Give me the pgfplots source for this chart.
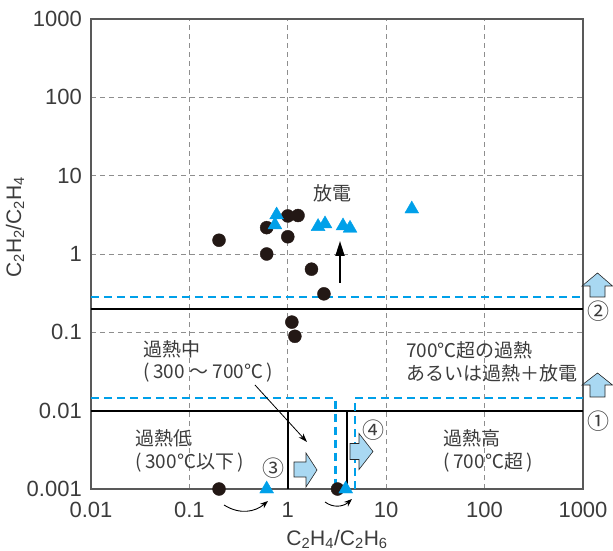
\documentclass[border=0pt]{standalone}
\usepackage{fontspec}
\setmainfont{Liberation Sans}
\newfontfamily\jp{Noto Sans CJK JP}
\usepackage{pgfplots}
\pgfplotsset{compat=1.18}
\usetikzlibrary{arrows.meta}

\definecolor{txt}{HTML}{3C3C3C}
\definecolor{cyanmark}{HTML}{00A0E9}
\definecolor{boxblue}{HTML}{A9D8F2}
\definecolor{gridgray}{HTML}{8E8E8E}
\definecolor{dotblack}{HTML}{231815}

\newcommand{\jpf}{\jp\fontsize{19}{22.7}\selectfont}

\begin{document}
\begin{tikzpicture}
\begin{axis}[
  scale only axis, width=492pt, height=470pt,
  xmode=log, ymode=log,
  xmin=0.01, xmax=1000, ymin=0.001, ymax=1000,
  xtick={0.01,0.1,1,10,100,1000},
  xticklabels={0.01,0.1,1,10,100,1000},
  ytick={0.001,0.01,0.1,1,10,100,1000},
  yticklabels={0.001,0.01,0.1,1,10,100,1000},
  xminorticks=false, yminorticks=false,
  major tick length=0pt,
  tick label style={font=\fontsize{22}{22}\selectfont, text=txt},
  xticklabel style={anchor=north, inner sep=0pt, yshift=-13pt},
  yticklabel style={anchor=east, inner sep=0pt, xshift=-9pt},
  grid=major,
  major grid style={gridgray, line width=0.7pt, dash pattern=on 5pt off 4pt},
  axis line style={draw=black!65, line width=1.4pt},
  xlabel={C\textsubscript{2}H\textsubscript{4}/C\textsubscript{2}H\textsubscript{6}},
  ylabel={C\textsubscript{2}H\textsubscript{2}/C\textsubscript{2}H\textsubscript{4}},
  label style={font=\fontsize{21}{21}\selectfont, text=txt},
  xlabel style={at={(axis description cs:0.5,-0.0872)}, anchor=north, inner sep=0pt},
  ylabel style={at={(axis description cs:-0.1545,0.557)}, anchor=center, inner sep=0pt},
  clip=false,
]
% diagnostic boundaries (solid) and alternative boundaries (dashed)
\addplot[black, line width=2.2pt] coordinates {(0.01,0.2) (1000,0.2)};
\addplot[black, line width=2.2pt] coordinates {(0.01,0.01) (1000,0.01)};
\addplot[black, line width=2.2pt] coordinates {(1,0.001) (1,0.01)};
\addplot[black, line width=2.2pt] coordinates {(4,0.001) (4,0.01)};
\addplot[cyanmark, line width=2.2pt, dash pattern=on 8pt off 5pt] coordinates {(0.01,0.28) (1000,0.28)};
\addplot[cyanmark, line width=2.2pt, dash pattern=on 8pt off 5pt] coordinates {(0.01,0.0145) (3.05,0.0145) (3.05,0.001)};
\addplot[cyanmark, line width=2.2pt, dash pattern=on 8pt off 5pt] coordinates {(4.85,0.001) (4.85,0.0145) (1000,0.0145)};

% measured ratios
\addplot[only marks, mark=*, mark size=6.5pt, color=dotblack] coordinates {
  (0.2,1.5) (0.61,2.17) (0.61,1.0) (1.0,3.06) (1.27,3.1) (1.0,1.66)
  (1.74,0.64) (2.33,0.31) (1.1,0.135) (1.18,0.089) (0.2,0.001) (3.2,0.001)
};
\addplot[only marks, mark=triangle*, mark size=8pt, color=cyanmark] coordinates {
  (0.77,3.15) (0.74,2.35) (2.03,2.24) (2.39,2.42) (3.64,2.28) (4.29,2.13)
  (18.2,3.75) (0.61,0.001) (3.88,0.001)
};
\end{axis}

\begin{scope}[shift={(current axis.south west)}, xshift=-91pt, yshift=489pt, x=1pt, y=-1pt]
  % region labels
  \node[font=\jpf, text=txt] at (332,193) {放電};
  \node[anchor=west, align=left, font=\jpf, text=txt, inner sep=0pt] at (143,361.5)
    {過熱中\\(\hspace{0.2em}300 ～ 700℃\hspace{0.2em})};
  \node[anchor=west, align=left, font=\jpf, text=txt, inner sep=0pt] at (406,362)
    {700℃超の過熱\\あるいは過熱＋放電};
  \node[anchor=west, align=left, font=\jpf, text=txt, inner sep=0pt] at (135,451)
    {過熱低\\(\hspace{0.2em}300℃以下\hspace{0.2em})};
  \node[anchor=west, align=left, font=\jpf, text=txt, inner sep=0pt] at (443,451)
    {過熱高\\(\hspace{0.2em}700℃超\hspace{0.2em})};

  % circled numbers
  \begin{scope}[every node/.style={font=\jp\fontsize{22}{22}\selectfont, text=txt}]
    \node at (273,468) {③};
    \node at (373,430) {④};
    \node at (598,311) {②};
    \node at (598,421) {①};
  \end{scope}

  % arrows
  \draw[black, line width=0.8pt, -{Stealth[length=9pt,width=6pt]}] (255,385) -- (307,442);
  \draw[black, line width=1.8pt, -{Triangle[length=15pt,width=9pt]}] (340,283) -- (340,241);
  \draw[black, line width=0.9pt, -{Stealth[length=8pt,width=6pt]}]
    (224,505) .. controls (240,515) and (255,512) .. (268,501);
  \draw[black, line width=0.9pt, -{Stealth[length=8pt,width=6pt]}]
    (325,502) .. controls (333,508) and (343,507) .. (352,499);

  % block arrows
  \begin{scope}[fill=boxblue, draw=black!85, line width=0.6pt, line join=miter]
    \filldraw (294,462)--(306,462)--(306,453)--(317,470)--(306,487)--(306,477)--(294,477)--cycle;
    \filldraw (350,443.5)--(359,443.5)--(359,433.5)--(373,451.5)--(359,469.5)--(359,459.5)--(350,459.5)--cycle;
    \filldraw (590,297)--(590,286)--(582,286)--(597.5,273)--(612.5,286)--(605,286)--(605,297)--cycle;
    \filldraw (590,397)--(590,385)--(582,385)--(597.5,373)--(612.5,385)--(605,385)--(605,397)--cycle;
  \end{scope}

  % page extent
  \path (0,0) rectangle (613,551);
\end{scope}
\end{tikzpicture}
\end{document}
